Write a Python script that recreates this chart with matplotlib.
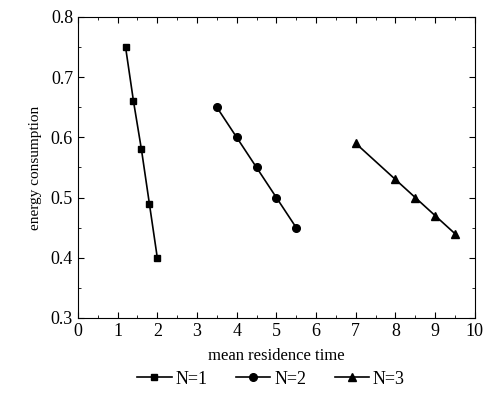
import matplotlib
matplotlib.use("Agg")
import matplotlib.pyplot as plt
from matplotlib.ticker import MultipleLocator

plt.rcParams['font.family'] = ['Liberation Serif', 'DejaVu Serif']

x1 = [1.2, 1.4, 1.6, 1.8, 2.0]
y1 = [0.75, 0.66, 0.58, 0.49, 0.40]
x2 = [3.5, 4.0, 4.5, 5.0, 5.5]
y2 = [0.65, 0.60, 0.55, 0.50, 0.45]
x3 = [7.0, 8.0, 8.5, 9.0, 9.5]
y3 = [0.59, 0.53, 0.50, 0.47, 0.44]
labels = ["N=1", "N=2", "N=3"]
xticks = [0, 1, 2, 3, 4, 5, 6, 7, 8, 9, 10]
yticks = [0.3, 0.4, 0.5, 0.6, 0.7, 0.8]

fig = plt.figure(figsize=(4.84, 3.94), dpi=100)
ax = fig.add_axes([0.161, 0.193, 0.82, 0.764])
ax.plot(x1, y1, '-s', color='black', lw=1.2, ms=5, label=labels[0])
ax.plot(x2, y2, '-o', color='black', lw=1.2, ms=5.5, label=labels[1])
ax.plot(x3, y3, '-^', color='black', lw=1.2, ms=6, label=labels[2])

ax.set_xlim(0, 10)
ax.set_ylim(0.3, 0.8)
ax.set_xticks(xticks)
ax.set_xticklabels([str(t) for t in xticks])
ax.set_yticks(yticks)
ax.set_yticklabels(["%.1f" % t for t in yticks])
ax.xaxis.set_minor_locator(MultipleLocator(0.5))
ax.yaxis.set_minor_locator(MultipleLocator(0.05))
ax.tick_params(which='both', direction='in', top=True, right=True, labelsize=13)
ax.tick_params(which='major', length=4)
ax.tick_params(which='minor', length=2.5)
ax.set_xlabel("mean residence time", fontsize=12, labelpad=6)
ax.set_ylabel("energy consumption", fontsize=11, labelpad=6)

fig.legend(loc='lower center', bbox_to_anchor=(0.56, -0.025), ncol=3, frameon=False,
           fontsize=13, handlelength=1.9, handletextpad=0.2, columnspacing=1.6)

fig.savefig("out.png", dpi=100)
